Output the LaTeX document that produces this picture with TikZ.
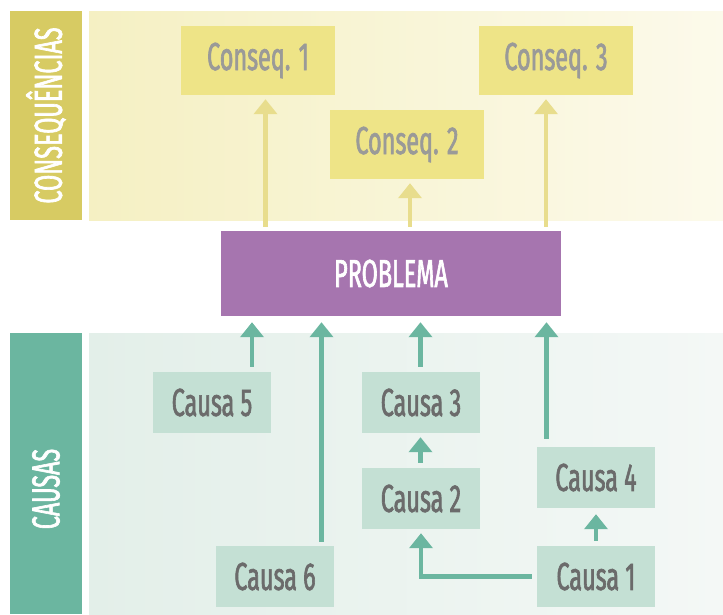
\documentclass[tikz,border=0pt]{standalone}
\usepackage{fontspec}
\newfontfamily\condfont[FakeStretch=0.6,FakeBold=1.6]{Fira Sans}
\usetikzlibrary{arrows.meta}

\definecolor{yelbar}{HTML}{D7CB63}
\definecolor{yelpanL}{HTML}{F5F0C3}
\definecolor{yelpanR}{HTML}{FCFAEB}
\definecolor{yelbox}{HTML}{EEE487}
\definecolor{yelarrow}{HTML}{E8DD8D}
\definecolor{yeltext}{HTML}{9A9A98}
\definecolor{probfill}{HTML}{A675AF}
\definecolor{tealbar}{HTML}{6BB6A0}
\definecolor{tealpanL}{HTML}{E3EFE9}
\definecolor{tealpanR}{HTML}{F4F8F6}
\definecolor{tealbox}{HTML}{C4E0D4}
\definecolor{tealtext}{HTML}{6B6B6B}

\begin{document}
\begin{tikzpicture}[x=1pt,y=-1pt,
  lbl/.style={font=\condfont\fontsize{39}{40}\selectfont,inner sep=0pt},
  qbox/.style={lbl,fill=yelbox,text=yeltext,minimum width=154pt,minimum height=69pt},
  cbox/.style={lbl,fill=tealbox,text=tealtext,minimum width=118pt,minimum height=61pt},
  yarr/.style={draw=yelarrow,line width=4.5pt,-{Triangle[width=23pt,length=15pt]},shorten <=4pt,shorten >=4pt},
  tarr/.style={draw=tealbar,line width=4.5pt,-{Triangle[width=23pt,length=15pt]},shorten <=5pt,shorten >=6pt}]

  \useasboundingbox (0,0) rectangle (723,614);

  %% Consequencias
  \fill[yelbar] (10,11) rectangle (82,220);
  \fill[left color=yelpanL,right color=yelpanR] (89,11) rectangle (723,220);
  \node[lbl,text=white,rotate=90] (tq) at (46,115.5) {CONSEQUÊNCIAS};
  \node[qbox] (q1) at (258,60.5) {Conseq. 1};
  \node[qbox] (q2) at (407,144.5) {Conseq. 2};
  \node[qbox] (q3) at (556,60.5) {Conseq. 3};

  %% Causas
  \fill[tealbar] (10,333) rectangle (82,614);
  \fill[left color=tealpanL,right color=tealpanR] (89,333) rectangle (723,614);
  \node[lbl,text=white,rotate=90] (tc) at (46,489) {CAUSAS};
  \node[cbox] (c5) at (212,402.5) {Causa 5};
  \node[cbox] (c3) at (421,402.5) {Causa 3};
  \node[cbox] (c2) at (421,498.5) {Causa 2};
  \node[cbox] (c4) at (596,477.5) {Causa 4};
  \node[cbox] (c6) at (275,576.5) {Causa 6};
  \node[cbox] (c1) at (596,576.5) {Causa 1};

  %% Problema
  \node[lbl,fill=probfill,text=white,minimum width=340pt,minimum height=85pt] (prob) at (391,273.5) {PROBLEMA};

  % arrows up to consequences
  \draw[yarr] (prob.north -| 265.5,0) -- (q1.south -| 265.5,0);
  \draw[yarr] (prob.north -| 410,0) -- (q2.south -| 410,0);
  \draw[yarr] (prob.north -| 546,0) -- (q3.south -| 546,0);

  % arrows from causes
  \draw[tarr] (c5.north -| 252,0) -- (prob.south -| 252,0);
  \draw[tarr,shorten <=4pt] (c6.north -| 321.5,0) -- (prob.south -| 321.5,0);
  \draw[tarr] (c3.north -| 420.5,0) -- (prob.south -| 420.5,0);
  \draw[tarr,shorten <=8pt] (c4.north -| 546.5,0) -- (prob.south -| 546.5,0);
  \draw[tarr,shorten >=4pt] (c2.north -| 420.5,0) -- (c3.south -| 420.5,0);
  \draw[tarr] (c1.north) -- (c4.south);
  \draw[tarr,shorten >=4pt] (c1.west) -| (c2.south);

\end{tikzpicture}
\end{document}
